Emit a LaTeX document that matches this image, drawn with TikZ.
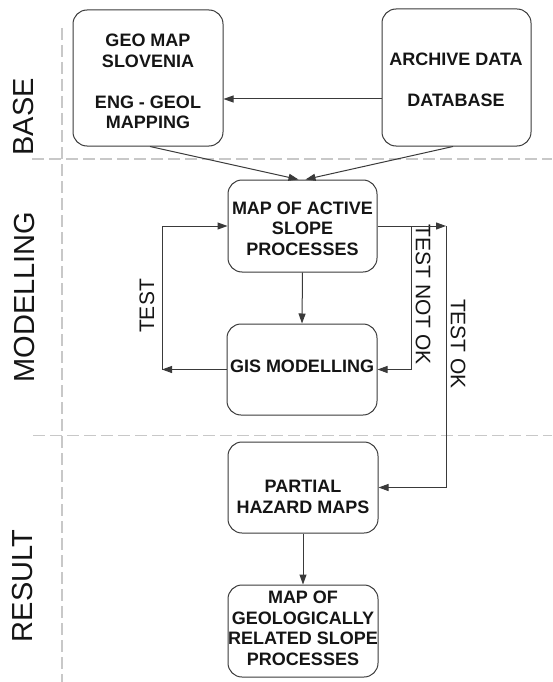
\documentclass[tikz,border=0pt]{standalone}
\usepackage{fontspec}
\setmainfont{Liberation Sans}
\usetikzlibrary{arrows.meta}
\definecolor{linegray}{HTML}{3A3A3A}
\definecolor{dashgray}{HTML}{C8C8C8}
\definecolor{txt}{HTML}{151515}
\tikzset{
  box/.style={draw=linegray, line width=1pt, rounded corners=14pt, inner sep=0pt},
  boxtext/.style={text=txt, align=center, inner sep=0pt, font=\fontsize{18}{20.5}\selectfont\bfseries},
  section/.style={text=txt, inner sep=0pt, rotate=90, font=\fontsize{29}{32}\selectfont},
  lbl/.style={text=txt, inner sep=0pt, font=\fontsize{21}{24}\selectfont},
  arr/.style={draw=linegray, line width=1pt, -{Triangle[length=10pt,width=7pt]}},
  sep/.style={draw=dashgray, line width=1.2pt, dash pattern=on 12pt off 5pt}
}
\begin{document}
\begin{tikzpicture}[x=1pt,y=-1pt]
\useasboundingbox (0,0) rectangle (552,682);
% separators
\coordinate (h1a) at (32,159);
\coordinate (h1b) at (552,159);
\coordinate (h2a) at (33,435.5);
\coordinate (h2b) at (552,435.5);
\coordinate (v1a) at (62,28);
\coordinate (v1b) at (62,682);
\draw[sep] (h1a) -- (h1b);
\draw[sep] (h2a) -- (h2b);
\draw[sep] (v1a) -- (v1b);
% section labels
\node[section] (base) at (24,117) {BASE};
\node[section] (modelling) at (25,297) {MODELLING};
\node[section] (result) at (23,586) {RESULT};
% boxes
\node[box, minimum width=150pt, minimum height=136pt] (geo) at (148,78) {};
\node[box, minimum width=149pt, minimum height=137pt] (arch) at (456.5,77.5) {};
\node[box, minimum width=149pt, minimum height=92pt] (map) at (302.5,226) {};
\node[box, minimum width=150pt, minimum height=91pt] (gis) at (302,369.5) {};
\node[box, minimum width=150pt, minimum height=91pt] (part) at (303,487.5) {};
\node[box, minimum width=150pt, minimum height=92pt] (final) at (303,631) {};
% box texts
\node[boxtext] (geo-t) at (148,81.5) {GEO MAP\\SLOVENIA\\[20.5pt]ENG - GEOL\\MAPPING};
\node[boxtext] (arch-t) at (456,79.5) {ARCHIVE DATA\\[20.5pt]DATABASE};
\node[boxtext] (map-t) at (302.5,228.5) {MAP OF ACTIVE\\SLOPE\\PROCESSES};
\node[boxtext] (gis-t) at (302,366) {GIS MODELLING};
\node[boxtext] (part-t) at (303,497) {PARTIAL\\HAZARD MAPS};
\node[boxtext] (final-t) at (303,628.5) {MAP OF\\GEOLOGICALLY\\RELATED SLOPE\\PROCESSES};
% connector labels
\node[lbl, rotate=90] (test) at (147,306) {TEST};
\node[lbl, rotate=-90] (testnot) at (423,295) {TEST NOT OK};
\node[lbl, rotate=-90] (testok) at (458,344) {TEST OK};
% connectors
\draw[arr] ([yshift=-21.5pt]arch.west) -- ([yshift=-21pt]geo.east);
\draw[arr] ([xshift=2pt]geo.south) -- ([xshift=-4pt]map.north);
\draw[arr] ([xshift=-3.5pt]arch.south) -- ([xshift=3pt]map.north);
\draw[arr] (map.south) -- (gis.north);
\coordinate (tl) at (162,369.5);
\draw[arr] (gis.west) -- (tl);
\draw[arr] (tl) |- (map.west);
\coordinate (tok) at (446,226);
\coordinate (tnot) at (411,226);
\draw[arr] (map.east) -- (tok);
\draw[arr] (tok) |- (part.east);
\draw[arr] (tnot) |- (gis.east);
\draw[arr] (part.south) -- (final.north);
\end{tikzpicture}
\end{document}
